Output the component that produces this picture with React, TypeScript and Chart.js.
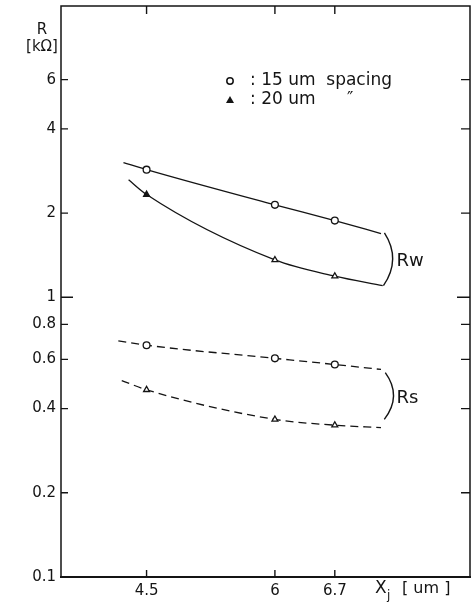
import { useEffect, useRef } from "react";
import { Chart, registerables } from "chart.js";

Chart.register(...registerables);

// ---- data ----
const xTicks = [4.5, 6, 6.7];
const yTicks = [0.1, 0.2, 0.4, 0.6, 0.8, 1, 2, 4, 6];
const xMeasured = [4.5, 6, 6.7];
const rw15 = [2.86, 2.14, 1.88];
const rw20 = [2.33, 1.36, 1.19];
const rs15 = [0.674, 0.605, 0.575];
const rs20 = [0.467, 0.366, 0.349];
// fitted-curve extensions: [startX, startY, endX, endY]
const rw15Ext = [4.23, 3.03, 7.24, 1.69];
const rw20Ext = [4.29, 2.63, 7.26, 1.1];
const rs15Ext = [4.17, 0.699, 7.24, 0.552];
const rs20Ext = [4.21, 0.504, 7.24, 0.342];
// bracket annotations: [x, yTop, yBottom] and label anchor [x, y]
const rwBracket = [7.28, 1.7, 1.1];
const rsBracket = [7.29, 0.538, 0.366];
const rwLabelAt = [7.42, 1.34];
const rsLabelAt = [7.42, 0.435];
const legendLabels = [": 15 um  spacing", ": 20 um"];

const FONT = "'DejaVu Sans', 'Liberation Sans', sans-serif";
const INK = "#141414";

export default function App() {
  const ref = useRef<HTMLCanvasElement>(null);

  useEffect(() => {
    document.body.style.margin = "0";
    const canvas = ref.current!;
    const mkCurve = (ext: number[], ys: number[]) => [
      { x: ext[0], y: ext[1] },
      ...xMeasured.map((x, i) => ({ x, y: ys[i] })),
      { x: ext[2], y: ext[3] },
    ];
    const radii = [0, 3.4, 3.4, 3.4, 0];
    const ds = (
      label: string,
      ext: number[],
      ys: number[],
      dash: number[],
      style: string,
      fills: string[]
    ) => ({
      label,
      data: mkCurve(ext, ys),
      borderColor: INK,
      borderWidth: 1.3,
      borderDash: dash,
      cubicInterpolationMode: "monotone",
      pointRadius: radii,
      pointHoverRadius: radii,
      pointStyle: style,
      pointBackgroundColor: fills,
      pointBorderColor: INK,
      pointBorderWidth: 1.3,
      fill: false,
    });
    const white = ["#fff", "#fff", "#fff", "#fff", "#fff"];

    const decor = {
      id: "decor",
      afterDatasetsDraw(chart: any) {
        const ctx = chart.ctx as CanvasRenderingContext2D;
        const { left, right, top, bottom } = chart.chartArea;
        const xs = chart.scales.x;
        const ys = chart.scales.y;
        ctx.save();
        ctx.strokeStyle = INK;
        ctx.fillStyle = INK;
        // frame
        ctx.lineWidth = 1.5;
        ctx.beginPath();
        ctx.moveTo(left, bottom);
        ctx.lineTo(left, top);
        ctx.lineTo(right, top);
        ctx.lineTo(right, bottom);
        ctx.stroke();
        ctx.lineWidth = 2;
        ctx.beginPath();
        ctx.moveTo(left - 1, bottom);
        ctx.lineTo(right + 1, bottom);
        ctx.stroke();
        // ticks
        ctx.lineWidth = 1.4;
        ctx.beginPath();
        yTicks.forEach((v) => {
          if (v === yTicks[0]) return;
          const py = ys.getPixelForValue(v);
          const major = v === 1;
          ctx.moveTo(left, py);
          ctx.lineTo(left + (major ? 12 : 7), py);
          ctx.moveTo(right, py);
          ctx.lineTo(right - (major ? 13 : 9), py);
        });
        xTicks.forEach((v) => {
          const px = xs.getPixelForValue(v);
          ctx.moveTo(px, top);
          ctx.lineTo(px, top + 8);
          ctx.moveTo(px, bottom);
          ctx.lineTo(px, bottom - 7);
        });
        ctx.stroke();

        // brackets
        const bracket = (b: number[]) => {
          const bx = xs.getPixelForValue(b[0]);
          const y1 = ys.getPixelForValue(b[1]);
          const y2 = ys.getPixelForValue(b[2]);
          ctx.beginPath();
          ctx.moveTo(bx, y1);
          ctx.quadraticCurveTo(bx + 17, (y1 + y2) / 2, bx - 1, y2);
          ctx.lineWidth = 1.4;
          ctx.stroke();
        };
        bracket(rwBracket);
        bracket(rsBracket);

        ctx.textBaseline = "middle";
        ctx.textAlign = "left";
        ctx.font = `18px ${FONT}`;
        ctx.fillText("Rw", xs.getPixelForValue(rwLabelAt[0]), ys.getPixelForValue(rwLabelAt[1]));
        ctx.fillText("Rs", xs.getPixelForValue(rsLabelAt[0]), ys.getPixelForValue(rsLabelAt[1]));

        // legend
        const lx = left + 169;
        const ly1 = top + 75;
        const ly2 = top + 94;
        ctx.lineWidth = 1.5;
        ctx.beginPath();
        ctx.arc(lx, ly1, 3.2, 0, Math.PI * 2);
        ctx.fillStyle = "#fff";
        ctx.fill();
        ctx.stroke();
        ctx.fillStyle = INK;
        ctx.beginPath();
        ctx.moveTo(lx - 4, ly2 + 3);
        ctx.lineTo(lx + 4, ly2 + 3);
        ctx.lineTo(lx, ly2 - 4);
        ctx.closePath();
        ctx.fill();
        ctx.font = `17px ${FONT}`;
        ctx.fillText(legendLabels[0], lx + 20, ly1);
        ctx.fillText(legendLabels[1], lx + 20, ly2);
        ctx.fillText("\u2033", lx + 117, ly2);

        // y title
        ctx.textAlign = "center";
        ctx.font = `15px ${FONT}`;
        ctx.fillText("R", left - 19, top + 24);
        ctx.fillText("[k\u03a9]", left - 19, top + 41);

        // x title
        ctx.textAlign = "left";
        ctx.font = `17px ${FONT}`;
        const tx = xs.getPixelForValue(7.17);
        const ty = bottom + 12;
        ctx.fillText("X", tx, ty);
        ctx.font = `12px ${FONT}`;
        ctx.fillText("j", tx + 12, ty + 7);
        ctx.font = `16px ${FONT}`;
        ctx.fillText("[ um ]", tx + 27, ty);
        ctx.restore();
      },
    };

    const chart = new Chart(canvas, {
      type: "line",
      data: {
        datasets: [
          ds("Rw 15 um", rw15Ext, rw15, [], "circle", white),
          ds("Rw 20 um", rw20Ext, rw20, [], "triangle", ["#fff", INK, "#fff", "#fff", "#fff"]),
          ds("Rs 15 um", rs15Ext, rs15, [8, 5], "circle", white),
          ds("Rs 20 um", rs20Ext, rs20, [8, 5], "triangle", white),
        ] as any,
      },
      options: {
        animation: false,
        responsive: true,
        maintainAspectRatio: false,
        layout: { padding: { top: 6, right: 3, left: 0, bottom: 0 } },
        plugins: { legend: { display: false }, tooltip: { enabled: false } },
        events: [],
        scales: {
          x: {
            type: "linear",
            min: 3.5,
            max: 8.28,
            grid: { display: false, drawTicks: false },
            border: { display: false },
            afterBuildTicks: (s: any) => {
              s.ticks = xTicks.map((v) => ({ value: v }));
            },
            afterFit: (s: any) => {
              s.height = 26;
              s.paddingLeft = 0;
              s.paddingRight = 0;
            },
            ticks: {
              color: INK,
              font: { family: FONT, size: 15 },
              padding: 5,
              maxRotation: 0,
              autoSkip: false,
              callback: (v: any) => String(v),
            },
          },
          y: {
            type: "logarithmic",
            min: 0.1,
            max: 11,
            grid: { display: false, drawTicks: false },
            border: { display: false },
            afterBuildTicks: (s: any) => {
              s.ticks = yTicks.map((v) => ({ value: v }));
            },
            afterFit: (s: any) => {
              s.width = 61;
              s.paddingTop = 0;
              s.paddingBottom = 0;
            },
            ticks: {
              color: INK,
              font: { family: FONT, size: 15 },
              padding: 5,
              autoSkip: false,
              callback: (v: any) => String(v),
            },
          },
        },
      },
      plugins: [decor],
    } as any);
    return () => chart.destroy();
  }, []);

  return (
    <div style={{ position: "fixed", left: 0, top: 0, width: 473, height: 603, background: "#fff" }}>
      <canvas ref={ref} />
    </div>
  );
}
